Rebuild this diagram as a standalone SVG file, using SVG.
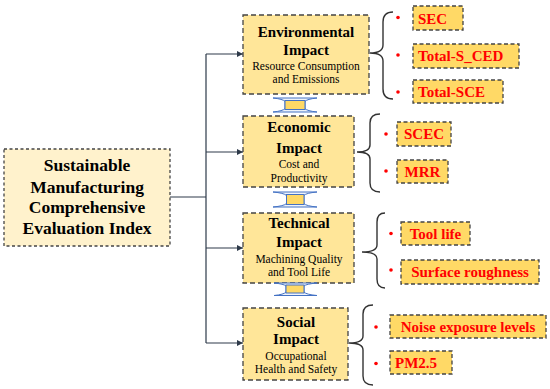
<svg xmlns="http://www.w3.org/2000/svg" width="550" height="389" viewBox="0 0 550 389">
<defs>
<marker id="ah" viewBox="0 0 10 10" refX="10" refY="5" markerWidth="6" markerHeight="6" orient="auto" markerUnits="userSpaceOnUse">
<path d="M0,0 L10,5 L0,10 Z" fill="#2E3A4A"/>
</marker>
<style>
.node{fill:#FFE699;stroke:#444;stroke-width:1.3;stroke-dasharray:5,3}
.root{fill:#FFF2CC;stroke:#444;stroke-width:1.3;stroke-dasharray:3,2.5}
.lbl{fill:#FFD966;stroke:#444;stroke-width:1.3;stroke-dasharray:4,2.5}
text{font-family:'Liberation Serif','Times New Roman',Times,'DejaVu Serif','Noto Serif',serif}
.t{text-anchor:middle;fill:#000}
.tb{font-weight:bold;font-size:15px}
.ts{font-size:11.5px}
.tr{font-weight:bold;font-size:15px;fill:#FF0000}
.dot{fill:#FF0000}
.br{fill:none;stroke:#333;stroke-width:1.4}
.con{fill:none;stroke:#2E3A4A;stroke-width:1.2}
.dflare{fill:#EEF3FA;stroke:#4472C4;stroke-width:1}
.dstem{fill:#FFD966;stroke:#4472C4;stroke-width:1}
</style>
</defs>

<g id="connectors">
<path class="con" d="M170,197 H206 M206,54 V343"/>
<path class="con" d="M206,54 H243" marker-end="url(#ah)"/>
<path class="con" d="M206,152 H243" marker-end="url(#ah)"/>
<path class="con" d="M206,248 H243" marker-end="url(#ah)"/>
<path class="con" d="M206,343 H243" marker-end="url(#ah)"/>
</g>

<g id="root">
<rect class="root" x="4" y="149" width="166" height="97"/>
<text class="t" font-weight="bold" font-size="17.5" x="87" y="171">Sustainable</text>
<text class="t" font-weight="bold" font-size="17.5" x="87" y="193">Manufacturing</text>
<text class="t" font-weight="bold" font-size="17.5" x="87" y="213">Comprehensive</text>
<text class="t" font-weight="bold" font-size="17.5" x="87" y="234">Evaluation Index</text>
</g>

<g id="env">
<rect class="node" x="243" y="15" width="126" height="79"/>
<text class="t tb" x="306" y="37">Environmental</text>
<text class="t tb" x="306" y="55">Impact</text>
<text class="t ts" x="306" y="70">Resource Consumption</text>
<text class="t ts" x="306" y="83">and Emissions</text>
</g>

<g id="eco">
<rect class="node" x="243" y="116" width="111" height="71"/>
<text class="t tb" x="299" y="132">Economic</text>
<text class="t tb" x="299" y="153">Impact</text>
<text class="t ts" x="299" y="168">Cost and</text>
<text class="t ts" x="299" y="182">Productivity</text>
</g>

<g id="tech">
<rect class="node" x="243" y="213" width="111" height="70"/>
<text class="t tb" x="299" y="228">Technical</text>
<text class="t tb" x="299" y="247">Impact</text>
<text class="t ts" x="299" y="263">Machining Quality</text>
<text class="t ts" x="299" y="276">and Tool Life</text>
</g>

<g id="soc">
<rect class="node" x="243" y="308" width="105" height="72"/>
<text class="t tb" x="296" y="327">Social</text>
<text class="t tb" x="296" y="344">Impact</text>
<text class="t ts" x="296" y="360">Occupational</text>
<text class="t ts" x="296" y="373">Health and Safety</text>
</g>

<g id="dbl1">
<path class="dflare" d="M273,98 H317 Q307,99 305,101.5 V108.5 Q307,111 317,112 H273 Q283,111 285,108.5 V101.5 Q283,99 273,98 Z"/>
<rect class="dstem" x="285" y="100.5" width="20" height="9"/>
</g>
<g id="dbl2">
<path class="dflare" d="M273,192 H317 Q306,193 304,195.5 V203.5 Q306,206 317,207 H273 Q284,206 286.5,203.5 V195.5 Q284,193 273,192 Z"/>
<rect class="dstem" x="286.5" y="194.5" width="17.5" height="10"/>
</g>
<g id="dbl3">
<path class="dflare" d="M274,283 H317 Q306,284 304,286 V292 Q306,294.5 317,295.5 H274 Q284,294.5 286,292 V286 Q284,284 274,283 Z"/>
<rect class="dstem" x="286" y="285" width="18" height="8"/>
</g>

<g id="brace1">
<path class="br" d="M393,12 Q383,12 383,22 V45 Q383,53 370,53 Q383,53 383,61 V89 Q383,99 393,99"/>
</g>
<g id="brace2">
<path class="br" d="M380,114 Q370,114 370,123 V145 Q370,152 357,152 Q370,152 370,159 V183 Q370,192 380,192"/>
</g>
<g id="brace3">
<path class="br" d="M385,213 Q377,213 377,222 V245 Q377,252 362,252 Q377,252 377,259 V279 Q377,288 385,288"/>
</g>
<g id="brace4">
<path class="br" d="M373,305 Q363,305 363,314 V336 Q363,343 349,343 Q363,343 363,350 V376 Q363,385 373,385"/>
</g>

<g id="l-sec">
<circle class="dot" cx="398" cy="17.5" r="1.8"/>
<rect class="lbl" x="413" y="6" width="50" height="24"/>
<text class="tr" x="418" y="23.5">SEC</text>
</g>
<g id="l-sced">
<circle class="dot" cx="398" cy="55" r="1.8"/>
<rect class="lbl" x="413" y="44" width="106" height="24"/>
<text class="tr" x="418" y="61">Total-S_CED</text>
</g>
<g id="l-sce">
<circle class="dot" cx="398" cy="92" r="1.8"/>
<rect class="lbl" x="413" y="80" width="90" height="23"/>
<text class="tr" x="418" y="97">Total-SCE</text>
</g>
<g id="l-scec">
<circle class="dot" cx="386" cy="134" r="1.8"/>
<rect class="lbl" x="397" y="122" width="54" height="24"/>
<text class="tr" x="424" y="139" text-anchor="middle">SCEC</text>
</g>
<g id="l-mrr">
<circle class="dot" cx="386" cy="171" r="1.8"/>
<rect class="lbl" x="397" y="160" width="51" height="23"/>
<text class="tr" x="422.5" y="177" text-anchor="middle">MRR</text>
</g>
<g id="l-tool">
<circle class="dot" cx="391" cy="233.5" r="1.8"/>
<rect class="lbl" x="401" y="222" width="69" height="23"/>
<text class="tr" x="435.5" y="239" text-anchor="middle">Tool life</text>
</g>
<g id="l-surf">
<circle class="dot" cx="391" cy="270" r="1.8"/>
<rect class="lbl" x="401" y="260" width="138" height="24"/>
<text class="tr" x="470" y="277" text-anchor="middle">Surface roughness</text>
</g>
<g id="l-noise">
<circle class="dot" cx="376" cy="327" r="1.8"/>
<rect class="lbl" x="390" y="315" width="156" height="23"/>
<text class="tr" x="468" y="332" text-anchor="middle">Noise exposure levels</text>
</g>
<g id="l-pm">
<circle class="dot" cx="376" cy="363.5" r="1.8"/>
<rect class="lbl" x="390" y="351" width="62" height="23"/>
<text class="tr" x="395" y="368">PM2.5</text>
</g>
</svg>
